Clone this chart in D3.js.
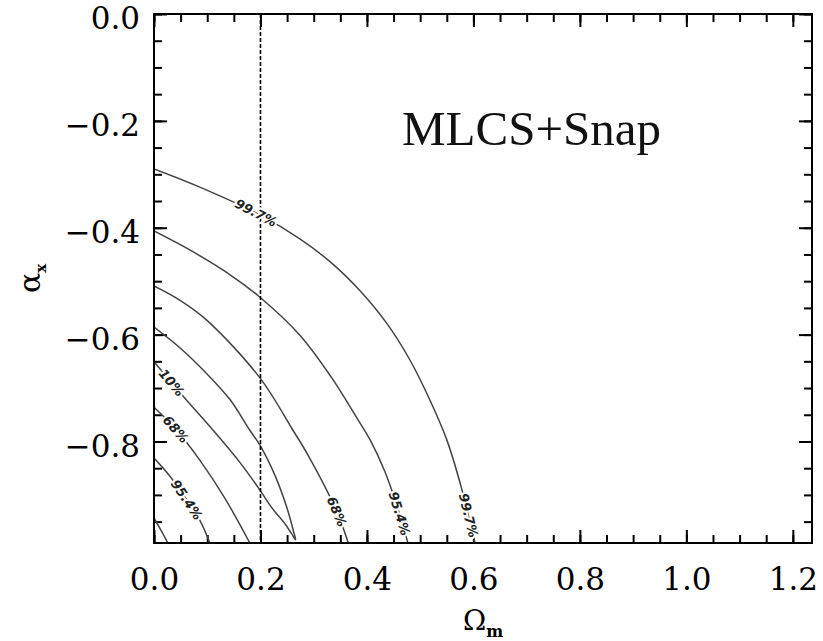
<!DOCTYPE html>
<html>
<head>
<meta charset="utf-8">
<script src="https://cdnjs.cloudflare.com/ajax/libs/d3/7.8.5/d3.min.js"></script>
<style>
body{margin:0;background:#fff;}
</style>
</head>
<body>
<script>
//axis ticks and marker
var omegaTicks = [0, 0.2, 0.4, 0.6, 0.8, 1.0, 1.2];
var alphaTicks = [0, -0.2, -0.4, -0.6, -0.8];
var omegaMinor = d3.range(0, 1.2001, 0.05);
var alphaMinor = d3.range(0, -0.9501, -0.05);
var omegaMarker = 0.2;
var panelTitle = 'MLCS+Snap';

//contour traces as [Omega_m, alpha_x]
var outer997 = [[0,-0.290],[0.086,-0.324],[0.199,-0.376],[0.274,-0.421],[0.336,-0.468],[0.387,-0.518],[0.438,-0.580],[0.481,-0.648],[0.518,-0.722],[0.550,-0.797],[0.577,-0.885],[0.603,-0.990]];
var outer954 = [[0,-0.406],[0.068,-0.442],[0.143,-0.488],[0.199,-0.530],[0.274,-0.601],[0.334,-0.681],[0.381,-0.756],[0.406,-0.797],[0.434,-0.857],[0.456,-0.919],[0.477,-0.990]];
var outer68 = [[0,-0.509],[0.049,-0.536],[0.099,-0.573],[0.199,-0.681],[0.261,-0.779],[0.289,-0.825],[0.342,-0.928],[0.365,-0.990]];
var loop10 = [[0,-0.586],[0.049,-0.625],[0.096,-0.670],[0.143,-0.722],[0.180,-0.779],[0.199,-0.807],[0.227,-0.863],[0.250,-0.925],[0.262,-0.968],[0.266,-0.984],
              [0.258,-0.972],[0.246,-0.954],[0.222,-0.925],[0.199,-0.891],[0.162,-0.840],[0.111,-0.779],[0.058,-0.719],[0,-0.651]];
var inner68 = [[0,-0.736],[0.039,-0.775],[0.086,-0.835],[0.133,-0.906],[0.180,-0.990]];
var inner954 = [[0,-0.831],[0.030,-0.865],[0.062,-0.910],[0.086,-0.947],[0.105,-0.990]];
var inner997 = [[0,-0.943],[0.013,-0.966],[0.026,-0.990]];
var contours = [outer997, outer954, outer68, loop10, inner68, inner954, inner997];

//level labels: text, contour index, spot on the curve
var levelText = ['99.7%', '99.7%', '95.4%', '68%', '10%', '68%', '95.4%'];
var levelLine = [0, 0, 1, 2, 3, 4, 5];
var levelAt = [[0.193,-0.367],[0.592,-0.938],[0.460,-0.936],[0.344,-0.930],[0.036,-0.687],[0.039,-0.780],[0.058,-0.911]];

//board metrics
var width = 823, height = 641;
var plot = {left:154, right:812, top:14, bottom:543};

var x = d3.scaleLinear().domain([0, 1.236]).range([plot.left, plot.right]);
var y = d3.scaleLinear().domain([-0.99, 0]).range([plot.bottom, plot.top]);

var svg = d3.select('body').append('svg')
	.attr('width', width)
	.attr('height', height);

svg.append('clipPath').attr('id','frame')
	.append('rect')
	.attr('x', plot.left).attr('y', plot.top)
	.attr('width', plot.right-plot.left).attr('height', plot.bottom-plot.top);

var fmt = d3.format('.1f');

//ticks on all four sides, pointing inward
function drawAxis(axis, transform, size, labels){
	var g = svg.append('g')
		.attr('transform', transform)
		.call(axis.tickSize(-size));
	g.select('.domain').remove();
	g.selectAll('line').attr('stroke','black').attr('stroke-width',2);
	if(!labels){
		g.selectAll('text').remove();
	} else {
		g.selectAll('text')
			.attr('font-family','DejaVu Serif')
			.attr('font-size',31)
			.attr('fill','black');
	}
	return g;
}

drawAxis(d3.axisBottom(x).tickValues(omegaMinor).tickFormat(''), 'translate(0,'+plot.bottom+')', 8, false);
drawAxis(d3.axisTop(x).tickValues(omegaMinor).tickFormat(''), 'translate(0,'+plot.top+')', 8, false);
drawAxis(d3.axisLeft(y).tickValues(alphaMinor).tickFormat(''), 'translate('+plot.left+',0)', 8, false);
drawAxis(d3.axisRight(y).tickValues(alphaMinor).tickFormat(''), 'translate('+plot.right+',0)', 8, false);

drawAxis(d3.axisBottom(x).tickValues(omegaTicks).tickFormat(fmt).tickPadding(25), 'translate(0,'+plot.bottom+')', 13, true);
drawAxis(d3.axisTop(x).tickValues(omegaTicks), 'translate(0,'+plot.top+')', 13, false);
drawAxis(d3.axisLeft(y).tickValues(alphaTicks).tickFormat(fmt).tickPadding(14), 'translate('+plot.left+',0)', 13, true)
	.selectAll('text').attr('dy','0.48em');
drawAxis(d3.axisRight(y).tickValues(alphaTicks), 'translate('+plot.right+',0)', 13, false);

//contours
var line = d3.line()
	.x(function(d){return x(d[0])})
	.y(function(d){return y(d[1])})
	.curve(d3.curveCatmullRom.alpha(0.5));

var paths = svg.append('g').attr('clip-path','url(#frame)')
	.selectAll('path').data(contours)
	.enter().append('path')
	.attr('d', line)
	.attr('fill','none')
	.attr('stroke','#444')
	.attr('stroke-width',1.5);

//vertical marker
svg.append('line')
	.attr('x1', x(omegaMarker)).attr('x2', x(omegaMarker))
	.attr('y1', plot.top).attr('y2', plot.bottom)
	.attr('stroke','black')
	.attr('stroke-width',1.6)
	.attr('stroke-dasharray','4,2');

//labels sit on the curve, turned along it
function placeLabel(i){
	var node = paths.nodes()[levelLine[i]];
	var total = node.getTotalLength();
	var tx = x(levelAt[i][0]), ty = y(levelAt[i][1]);
	var best = 0, bestDist = Infinity;
	for(var l = 0; l <= total; l += 1){
		var p = node.getPointAtLength(l);
		var dd = (p.x-tx)*(p.x-tx) + (p.y-ty)*(p.y-ty);
		if(dd < bestDist){ bestDist = dd; best = l; }
	}
	var p0 = node.getPointAtLength(Math.max(best-4,0));
	var p1 = node.getPointAtLength(Math.min(best+4,total));
	var pc = node.getPointAtLength(best);
	var angle = Math.atan2(p1.y-p0.y, p1.x-p0.x)*180/Math.PI;
	if(angle > 90) angle -= 180;
	if(angle < -90) angle += 180;
	svg.append('text')
		.attr('transform','translate('+pc.x+','+pc.y+') rotate('+angle+')')
		.attr('text-anchor','middle')
		.attr('dy','0.35em')
		.attr('font-family','DejaVu Sans')
		.attr('font-weight','bold')
		.attr('font-style','italic')
		.attr('font-size',13)
		.attr('stroke','white')
		.attr('stroke-width',4)
		.attr('paint-order','stroke')
		.attr('fill','#222')
		.text(levelText[i]);
}
for(var i = 0; i < levelText.length; i++){
	placeLabel(i);
}

//frame
svg.append('rect')
	.attr('x', plot.left).attr('y', plot.top)
	.attr('width', plot.right-plot.left).attr('height', plot.bottom-plot.top)
	.attr('fill','none')
	.attr('stroke','black')
	.attr('stroke-width',2);

//panel title
svg.append('text')
	.attr('x',402).attr('y',145)
	.attr('font-family','Liberation Serif')
	.attr('font-size',49)
	.attr('fill','#111')
	.text(panelTitle);

//axis titles
var xt = svg.append('text')
	.attr('x',(plot.left+plot.right)/2).attr('y',630)
	.attr('text-anchor','middle')
	.attr('font-family','DejaVu Serif')
	.attr('font-size',28);
xt.append('tspan').text('Ω');
xt.append('tspan').attr('dy',7).attr('font-size',16).attr('font-weight','bold').text('m');

var yt = svg.append('text')
	.attr('transform','translate(40,'+((plot.top+plot.bottom)/2)+') rotate(-90)')
	.attr('text-anchor','middle')
	.attr('font-family','DejaVu Serif')
	.attr('font-size',30);
yt.append('tspan').text('α');
yt.append('tspan').attr('dy',6).attr('font-size',15).attr('font-weight','bold').text('x');
</script>
</body>
</html>
